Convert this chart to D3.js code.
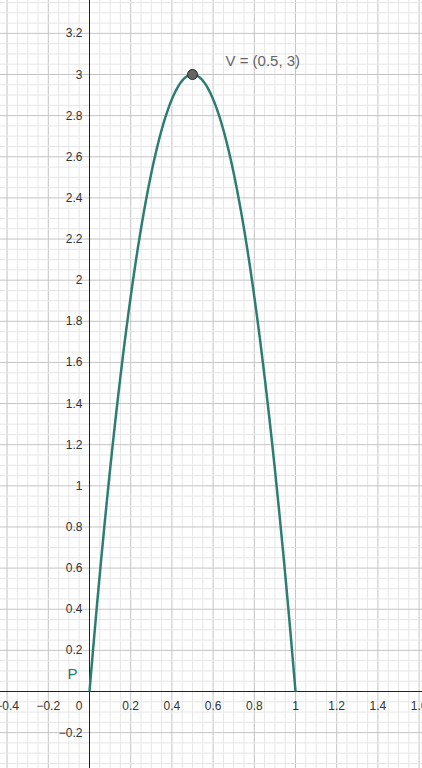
<!DOCTYPE html><html><head><script src="https://cdn.jsdelivr.net/npm/d3@7"></script>
<style>body{margin:0}svg{display:block;font-family:"Liberation Sans",Arial,sans-serif}</style></head><body>
<script>
const xTicks=[-0.4,-0.2,0.2,0.4,0.6,0.8,1,1.2,1.4,1.6];
const yTicks=[-0.2,0.2,0.4,0.6,0.8,1,1.2,1.4,1.6,1.8,2,2.2,2.4,2.6,2.8,3,3.2];
const vertex=[0.5,3];
const a=-12,b=12,c=0; // y = -12x^2+12x
const W=422,H=768;
const x=d3.scaleLinear().domain([0,1]).range([89.5,295.5]);
const y=d3.scaleLinear().domain([0,3]).range([691.5,74.5]);
const svg=d3.select("body").append("svg").attr("width",W).attr("height",H);
svg.append("rect").attr("width",W).attr("height",H).attr("fill","#fff");
const x0=x.invert(0),x1=x.invert(W),y0=y.invert(H),y1=y.invert(0);
const g=svg.append("g");
for(let i=Math.ceil(x0/0.05);i<=x1/0.05;i++){const v=i*0.05;const maj=i%4===0;
 g.append("line").attr("x1",x(v)).attr("x2",x(v)).attr("y1",0).attr("y2",H).attr("stroke",maj?"#c4c4c4":"#e6e6e6").attr("stroke-width",1);}
for(let i=Math.ceil(y0/0.05);i<=y1/0.05;i++){const v=i*0.05;const maj=i%4===0;
 g.append("line").attr("y1",y(v)).attr("y2",y(v)).attr("x1",0).attr("x2",W).attr("stroke",maj?"#c4c4c4":"#e6e6e6").attr("stroke-width",1);}
svg.append("line").attr("x1",0).attr("x2",W).attr("y1",y(0)).attr("y2",y(0)).attr("stroke","#222");
svg.append("line").attr("y1",0).attr("y2",H).attr("x1",x(0)).attr("x2",x(0)).attr("stroke","#222");
const lab=svg.append("g").attr("font-size",12).attr("fill","#333");
xTicks.forEach(v=>lab.append("text").attr("x",x(v)).attr("y",y(0)+18).attr("text-anchor","middle").text(v<0?"\u2212"+Math.abs(v):v));
lab.append("text").attr("x",x(0)-7).attr("y",y(0)+18).attr("text-anchor","end").text("0");
yTicks.forEach(v=>lab.append("text").attr("x",x(0)-7).attr("y",y(v)+4).attr("text-anchor","end").text(v<0?"\u2212"+Math.abs(v):v));
const pts=d3.range(0,1.0001,0.005).map(t=>[t,a*t*t+b*t+c]);
svg.append("path").datum(pts).attr("d",d3.line().x(d=>x(d[0])).y(d=>y(d[1]))).attr("fill","none").attr("stroke","#2e7d72").attr("stroke-width",2.5);
svg.append("circle").attr("cx",x(vertex[0])).attr("cy",y(vertex[1])).attr("r",5).attr("fill","#666").attr("stroke","#222").attr("stroke-width",1);
svg.append("text").attr("x",x(vertex[0])+33).attr("y",y(vertex[1])-9).attr("font-size",15).attr("fill","#666").text("V = (0.5, 3)");
svg.append("text").attr("x",x(0)-22).attr("y",y(0)-13).attr("font-size",15).attr("fill","#1f7a66").text("P");
</script></body></html>
